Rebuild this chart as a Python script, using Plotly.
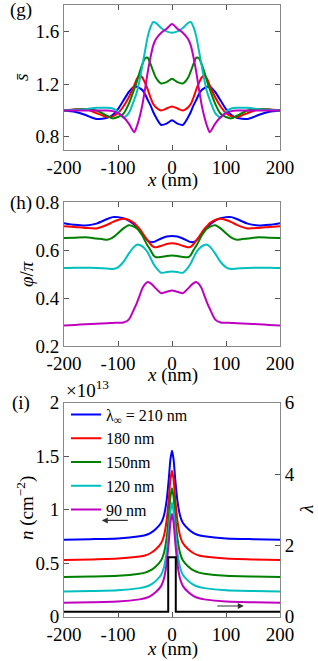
import plotly.graph_objects as go

# ---------------- data ----------------
x_gh = [-200, -180, -160, -140, -120, -110, -100, -90, -80, -70, -65, -60, -55, -50, -45, -40, -35, -30, -20, -10,
        0, 10, 20, 30, 35, 40, 45, 50, 55, 60, 65, 70, 80, 90, 100, 110, 120, 140, 160, 180, 200]

# panel (g): s-bar
s_blue = [1.0, 0.99, 0.965, 0.935, 0.945, 0.965, 1.01, 1.075, 1.14, 1.18, 1.18, 1.17, 1.155, 1.125, 1.08, 1.04, 0.99, 0.95, 0.89, 0.90,
          0.925, 0.90, 0.89, 0.95, 0.99, 1.04, 1.08, 1.125, 1.155, 1.17, 1.18, 1.18, 1.14, 1.075, 1.01, 0.965, 0.945, 0.935, 0.965, 0.99, 1.0]
s_red = [1.0, 1.01, 1.01, 0.98, 0.95, 0.955, 0.98, 1.03, 1.10, 1.19, 1.24, 1.265, 1.25, 1.21, 1.16, 1.10, 1.05, 1.025, 1.0, 1.015,
         1.03, 1.015, 1.0, 1.025, 1.05, 1.10, 1.16, 1.21, 1.25, 1.265, 1.24, 1.19, 1.10, 1.03, 0.98, 0.955, 0.95, 0.98, 1.01, 1.01, 1.0]
s_green = [1.0, 1.005, 1.01, 1.0, 0.96, 0.94, 0.95, 0.975, 1.05, 1.16, 1.22, 1.29, 1.35, 1.395, 1.40, 1.355, 1.30, 1.25, 1.205, 1.215,
           1.24, 1.215, 1.205, 1.25, 1.30, 1.355, 1.40, 1.395, 1.35, 1.29, 1.22, 1.16, 1.05, 0.975, 0.95, 0.94, 0.96, 1.0, 1.01, 1.005, 1.0]
s_cyan = [1.0, 1.005, 1.01, 1.02, 1.02, 1.015, 0.99, 0.945, 0.98, 1.08, 1.14, 1.23, 1.34, 1.45, 1.56, 1.63, 1.67, 1.665, 1.625, 1.60,
          1.59, 1.60, 1.625, 1.665, 1.67, 1.63, 1.56, 1.45, 1.34, 1.23, 1.14, 1.08, 0.98, 0.945, 0.99, 1.015, 1.02, 1.02, 1.01, 1.005, 1.0]
s_magenta = [1.0, 1.0, 1.0, 1.0, 1.0, 0.995, 0.98, 0.95, 0.90, 0.835, 0.88, 0.95, 1.04, 1.16, 1.29, 1.40, 1.49, 1.54, 1.59, 1.62,
             1.655, 1.62, 1.59, 1.54, 1.49, 1.40, 1.29, 1.16, 1.04, 0.95, 0.88, 0.835, 0.90, 0.95, 0.98, 0.995, 1.0, 1.0, 1.0, 1.0, 1.0]

# panel (h): phi/pi
p_blue = [0.712, 0.705, 0.702, 0.71, 0.729, 0.737, 0.737, 0.732, 0.722, 0.706, 0.695, 0.682, 0.667, 0.652, 0.64, 0.633, 0.633, 0.637, 0.648, 0.656,
          0.658, 0.656, 0.648, 0.637, 0.633, 0.633, 0.64, 0.652, 0.667, 0.682, 0.695, 0.706, 0.722, 0.732, 0.737, 0.737, 0.729, 0.71, 0.702, 0.705, 0.712]
p_red = [0.699, 0.696, 0.692, 0.69, 0.705, 0.716, 0.725, 0.73, 0.725, 0.712, 0.70, 0.688, 0.672, 0.655, 0.64, 0.625, 0.614, 0.611, 0.617, 0.625,
         0.628, 0.625, 0.617, 0.611, 0.614, 0.625, 0.64, 0.655, 0.672, 0.688, 0.70, 0.712, 0.725, 0.73, 0.725, 0.716, 0.705, 0.69, 0.692, 0.696, 0.699]
p_green = [0.65, 0.651, 0.653, 0.648, 0.643, 0.652, 0.67, 0.69, 0.703, 0.697, 0.69, 0.677, 0.66, 0.638, 0.618, 0.60, 0.58, 0.57, 0.571, 0.575,
           0.577, 0.575, 0.571, 0.57, 0.58, 0.60, 0.618, 0.638, 0.66, 0.677, 0.69, 0.697, 0.703, 0.69, 0.67, 0.652, 0.643, 0.648, 0.653, 0.651, 0.65]
p_cyan = [0.525, 0.526, 0.526, 0.525, 0.523, 0.521, 0.528, 0.55, 0.585, 0.614, 0.622, 0.621, 0.615, 0.605, 0.59, 0.568, 0.545, 0.528, 0.505, 0.508,
          0.51, 0.508, 0.505, 0.528, 0.545, 0.568, 0.59, 0.605, 0.615, 0.621, 0.622, 0.614, 0.585, 0.55, 0.528, 0.521, 0.523, 0.525, 0.526, 0.526, 0.525]
p_magenta = [0.285, 0.288, 0.291, 0.293, 0.295, 0.296, 0.297, 0.298, 0.31, 0.355, 0.38, 0.41, 0.44, 0.458, 0.467, 0.462, 0.452, 0.44, 0.42, 0.426,
             0.431, 0.426, 0.42, 0.44, 0.452, 0.462, 0.467, 0.458, 0.44, 0.41, 0.38, 0.355, 0.31, 0.298, 0.297, 0.296, 0.295, 0.293, 0.291, 0.288, 0.285]

# panel (i): n (1e13 cm^-2) and lambda
x_i = [-200, -150, -100, -60, -50, -40, -30, -20, -15, -10, -6, -3, 0, 3, 6, 10, 15, 20, 30, 40, 50, 60, 100, 150, 200]
n_blue = [0.72, 0.725, 0.732, 0.752, 0.762, 0.782, 0.82, 0.878, 0.944, 1.085, 1.284, 1.467, 1.55,
          1.467, 1.284, 1.085, 0.944, 0.878, 0.82, 0.782, 0.762, 0.752, 0.732, 0.725, 0.72]
n_red = [0.53, 0.535, 0.543, 0.562, 0.572, 0.593, 0.63, 0.689, 0.755, 0.897, 1.098, 1.28, 1.365,
         1.28, 1.098, 0.897, 0.755, 0.689, 0.63, 0.593, 0.572, 0.562, 0.543, 0.535, 0.53]
n_green = [0.37, 0.375, 0.382, 0.402, 0.412, 0.432, 0.47, 0.528, 0.594, 0.735, 0.934, 1.117, 1.2,
           1.117, 0.934, 0.735, 0.594, 0.528, 0.47, 0.432, 0.412, 0.402, 0.382, 0.375, 0.37]
n_cyan = [0.235, 0.24, 0.247, 0.267, 0.277, 0.297, 0.335, 0.393, 0.459, 0.60, 0.799, 0.982, 1.065,
          0.982, 0.799, 0.60, 0.459, 0.393, 0.335, 0.297, 0.277, 0.267, 0.247, 0.24, 0.235]
n_magenta = [0.13, 0.135, 0.142, 0.162, 0.172, 0.192, 0.23, 0.288, 0.354, 0.495, 0.694, 0.877, 0.96,
             0.877, 0.694, 0.495, 0.354, 0.288, 0.23, 0.192, 0.172, 0.162, 0.142, 0.135, 0.13]
x_lam = [-200, -7, -7, 7, 7, 200]
lam = [0.14, 0.14, 1.665, 1.665, 0.14, 0.14]

legend_names = ["λ<sub>∞</sub> = 210 nm", "180 nm", "150nm", "120 nm", "90 nm"]
colors = ["#0000FF", "#FF0000", "#008000", "#00BFBF", "#BF00BF"]
x_ticks = [-200, -100, 0, 100, 200]
x_ticktext = ["-200", "-100", "0", "100", "200"]

# ---------------- figure ----------------
FONT = "Liberation Serif"
W, H = 318, 661
fig = go.Figure()

g_series = [s_blue, s_red, s_green, s_cyan, s_magenta]
h_series = [p_blue, p_red, p_green, p_cyan, p_magenta]
i_series = [n_blue, n_red, n_green, n_cyan, n_magenta]

for ys, c in zip(g_series, colors):
    fig.add_trace(go.Scatter(x=x_gh, y=ys, mode="lines", line=dict(color=c, width=2, shape="spline", smoothing=0.6),
                             xaxis="x", yaxis="y", showlegend=False))
for ys, c in zip(h_series, colors):
    fig.add_trace(go.Scatter(x=x_gh, y=ys, mode="lines", line=dict(color=c, width=2, shape="spline", smoothing=0.6),
                             xaxis="x2", yaxis="y2", showlegend=False))
for ys, c, nm in zip(i_series, colors, legend_names):
    fig.add_trace(go.Scatter(x=x_i, y=ys, mode="lines", name=nm, line=dict(color=c, width=2, shape="spline", smoothing=0.5),
                             xaxis="x3", yaxis="y3", showlegend=True))
fig.add_trace(go.Scatter(x=x_lam, y=lam, mode="lines", line=dict(color="black", width=2),
                         xaxis="x3", yaxis="y4", showlegend=False))

def py(pix):
    return 1 - pix / H

xdom = [64 / W, 280 / W]
common = dict(showline=True, linecolor="#888888", linewidth=1, ticks="inside", ticklen=5, tickcolor="#555555",
              showgrid=False, zeroline=False, automargin=False,
              tickfont=dict(family=FONT, size=19, color="black"))
xcommon = dict(common, range=[-200, 200], tickvals=x_ticks, ticktext=x_ticktext, domain=xdom)
ytitle_font = dict(family=FONT, size=19, color="black")

fig.update_layout(
    width=W, height=H, autosize=False,
    margin=dict(l=0, r=0, t=0, b=0, pad=0),
    paper_bgcolor="white", plot_bgcolor="white",
    font=dict(family=FONT, size=19, color="black"),
    xaxis=dict(xcommon, anchor="y", mirror="ticks"),
    yaxis=dict(common, anchor="x", domain=[py(150), py(5)], range=[0.7, 1.8], tickvals=[0.8, 1.2, 1.6],
               ticktext=["0.8", "1.2", "1.6"], mirror="ticks"),
    xaxis2=dict(xcommon, anchor="y2", mirror="ticks"),
    yaxis2=dict(common, anchor="x2", domain=[py(346), py(202)], range=[0.2, 0.8], tickvals=[0.2, 0.4, 0.6, 0.8],
                ticktext=["0.2", "0.4", "0.6", "0.8"], mirror="ticks"),
    xaxis3=dict(xcommon, anchor="y3", mirror=True),
    yaxis3=dict(common, anchor="x3", domain=[py(616.7), py(402.7)], range=[0, 2], tickvals=[0, 0.5, 1, 1.5, 2],
                ticktext=["0", "0.5", "1", "1.5", "2"]),
    yaxis4=dict(common, anchor="x3", overlaying="y3", side="right", range=[0, 6], tickvals=[0, 2, 4, 6],
                ticktext=["0", "2", "4", "6"]),
    legend=dict(x=66 / W, y=py(397.5), xanchor="left", yanchor="top", bgcolor="rgba(0,0,0,0)",
                font=dict(family=FONT, size=16, color="black"), tracegroupgap=0, itemwidth=30),
)

ann_font = dict(family=FONT, size=19, color="black")
for txt, xp, yp in [("(g)", 8, 10), ("(h)", 8, 203), ("(i)", 10, 403)]:
    fig.add_annotation(text=txt, xref="paper", yref="paper", x=xp / W, y=py(yp), xanchor="left", yanchor="middle",
                       showarrow=False, font=ann_font)
# x-axis titles
for yp in [180, 375, 649]:
    fig.add_annotation(text="<i>x</i> (nm)", xref="paper", yref="paper", x=172 / W, y=py(yp), xanchor="center",
                       yanchor="middle", showarrow=False, font=ann_font)
# y-axis titles (rotated)
for txt, xp, yp in [("<i>s\u0304</i>", 21, 77), ("<i>φ</i>/<i>π</i>", 26, 274),
                    ("<i>n</i> (cm<sup>−2</sup>)", 25, 508), ("<i>λ</i>", 306, 510)]:
    fig.add_annotation(text=txt, xref="paper", yref="paper", x=xp / W, y=py(yp), xanchor="center",
                       yanchor="middle", textangle=-90, showarrow=False, font=ann_font)
fig.add_annotation(text="×10<sup>13</sup>", xref="paper", yref="paper", x=64 / W, y=py(389), xanchor="left",
                   yanchor="middle", showarrow=False, font=ann_font)
# arrows
fig.add_annotation(x=-130, y=0.90, ax=-79, ay=0.90, xref="x3", yref="y3", axref="x3", ayref="y3", text="",
                   showarrow=True, arrowhead=2, arrowsize=1, arrowwidth=1.2, arrowcolor="#333333")
fig.add_annotation(x=133, y=0.10, ax=81, ay=0.10, xref="x3", yref="y3", axref="x3", ayref="y3", text="",
                   showarrow=True, arrowhead=2, arrowsize=1, arrowwidth=1.2, arrowcolor="#333333")

fig.write_html("out.html", config={"displayModeBar": False},
               post_script="document.body.style.margin='0';document.body.style.overflow='hidden';")
